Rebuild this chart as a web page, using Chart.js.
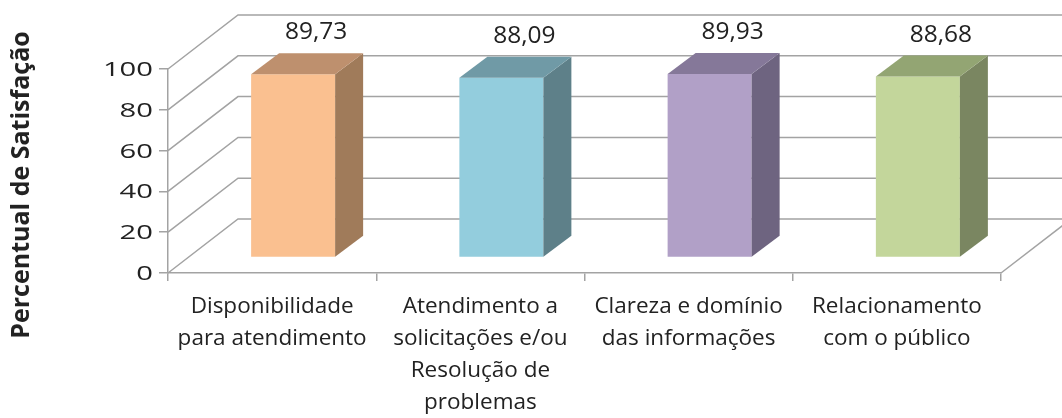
<!DOCTYPE html>
<html>
<head>
<meta charset="utf-8">
<script src="https://cdn.jsdelivr.net/npm/chart.js@4.4.0/dist/chart.umd.min.js"></script>
<style>
  html, body { margin: 0; padding: 0; background: #fff; }
  canvas { display: block; }
</style>
</head>
<body>
<canvas id="chart" width="1062" height="418"></canvas>
<script>
// data
const categories = [
  ['Disponibilidade', 'para atendimento'],
  ['Atendimento a', 'solicitações e/ou', 'Resolução de', 'problemas'],
  ['Clareza e domínio', 'das informações'],
  ['Relacionamento', 'com o público']
];
const satisfaction = [89.73, 88.09, 89.93, 88.68];
const yTicks = [0, 20, 40, 60, 80, 100];
const yTitle = 'Percentual de Satisfação';

const frontColors = ['#FAC090', '#93CDDD', '#B1A0C7', '#C3D69B'];
const sideColors = ['#A07B5A', '#5E8089', '#6E6480', '#7A8661'];
const topColors = ['#BE906E', '#709AA6', '#857899', '#93A573'];

const gridColor = '#A3A3A3';
const textColor = '#222';
const depth = {x: 70, y: -54};      // offset of the back wall
const barShift = {x: 21, y: -15.6}; // bars stand a bit into the floor
const barDepth = {x: 28, y: -21};   // thickness of the 3d bars

// fake 3d: walls, side/top faces, value labels
const box3d = {
  id: 'box3d',
  beforeDatasetsDraw(chart) {
    const {ctx, chartArea: a, scales: {y}} = chart;
    ctx.save();
    ctx.strokeStyle = gridColor;
    ctx.lineWidth = 1.5;
    yTicks.forEach(v => {
      const py = y.getPixelForValue(v);
      ctx.beginPath();
      ctx.moveTo(a.left, py);
      ctx.lineTo(a.left + depth.x, py + depth.y);
      ctx.lineTo(a.right + depth.x, py + depth.y);
      ctx.stroke();
    });
    ctx.beginPath();
    ctx.moveTo(a.right, a.bottom);
    ctx.lineTo(a.right + depth.x, a.bottom + depth.y);
    ctx.stroke();
    ctx.restore();

    // bars get drawn pushed back into the box
    ctx.save();
    ctx.translate(barShift.x, barShift.y);
  },
  afterDatasetsDraw(chart) {
    const {ctx} = chart;
    const bars = chart.getDatasetMeta(0).data;
    bars.forEach((bar, i) => {
      const {x, y, base, width} = bar.getProps(['x', 'y', 'base', 'width'], true);
      const l = x - width / 2, r = x + width / 2;
      // side
      ctx.fillStyle = sideColors[i];
      ctx.beginPath();
      ctx.moveTo(r, y);
      ctx.lineTo(r + barDepth.x, y + barDepth.y);
      ctx.lineTo(r + barDepth.x, base + barDepth.y);
      ctx.lineTo(r, base);
      ctx.closePath();
      ctx.fill();
      // top
      ctx.fillStyle = topColors[i];
      ctx.beginPath();
      ctx.moveTo(l, y);
      ctx.lineTo(l + barDepth.x, y + barDepth.y);
      ctx.lineTo(r + barDepth.x, y + barDepth.y);
      ctx.lineTo(r, y);
      ctx.closePath();
      ctx.fill();
    });
    ctx.restore();

    // value labels
    ctx.save();
    ctx.fillStyle = textColor;
    ctx.font = '24.5px "Open Sans"';
    ctx.textAlign = 'center';
    ctx.textBaseline = 'alphabetic';
    bars.forEach((bar, i) => {
      const txt = satisfaction[i].toFixed(2).replace('.', ',');
      ctx.fillText(txt, bar.x + 44, bar.y - 50.5);
    });
    ctx.restore();
  },
  afterDraw(chart) {
    const {ctx, scales: {y}} = chart;
    // y tick labels (wide looking digits in the original)
    ctx.save();
    ctx.fillStyle = textColor;
    ctx.font = '19.6px "Open Sans"';
    ctx.textAlign = 'right';
    ctx.textBaseline = 'alphabetic';
    y.ticks.forEach(t => {
      const py = y.getPixelForValue(t.value);
      ctx.save();
      ctx.translate(153, py + 7);
      ctx.scale(1.49, 1);
      ctx.fillText(String(t.value), 0, 0);
      ctx.restore();
    });
    ctx.restore();

    // axis title
    ctx.save();
    ctx.fillStyle = textColor;
    ctx.font = 'bold 25px "Open Sans"';
    ctx.textAlign = 'center';
    ctx.textBaseline = 'middle';
    ctx.translate(22, 185);
    ctx.rotate(-Math.PI / 2);
    ctx.fillText(yTitle, 0, 0);
    ctx.restore();
  }
};

new Chart(document.getElementById('chart'), {
  type: 'bar',
  data: {
    labels: categories,
    datasets: [{
      label: yTitle,
      data: satisfaction,
      backgroundColor: frontColors,
      borderWidth: 0,
      categoryPercentage: 1,
      barPercentage: 0.4034,
      clip: false
    }]
  },
  options: {
    responsive: false,
    animation: false,
    layout: { padding: { top: 69, right: 61, left: 0, bottom: 0 } },
    plugins: {
      legend: { display: false },
      tooltip: { enabled: false }
    },
    scales: {
      x: {
        offset: true,
        grid: {
          offset: true,
          drawOnChartArea: false,
          tickLength: 8,
          color: gridColor,
          lineWidth: 1.5
        },
        border: { display: true, color: gridColor, width: 1.5 },
        ticks: {
          color: textColor,
          font: { family: 'Open Sans', size: 22.5, lineHeight: '32px' },
          maxRotation: 0,
          minRotation: 0,
          autoSkip: false,
          padding: 10
        },
        afterFit(scale) { scale.height = 145; }
      },
      y: {
        min: 0,
        max: 100,
        ticks: { stepSize: 20, display: false },
        grid: {
          drawOnChartArea: false,
          tickLength: 9,
          color: gridColor,
          lineWidth: 1.5
        },
        border: { display: true, color: gridColor, width: 1.5 },
        afterFit(scale) { scale.width = 168; }
      }
    }
  },
  plugins: [box3d]
});
</script>
</body>
</html>
